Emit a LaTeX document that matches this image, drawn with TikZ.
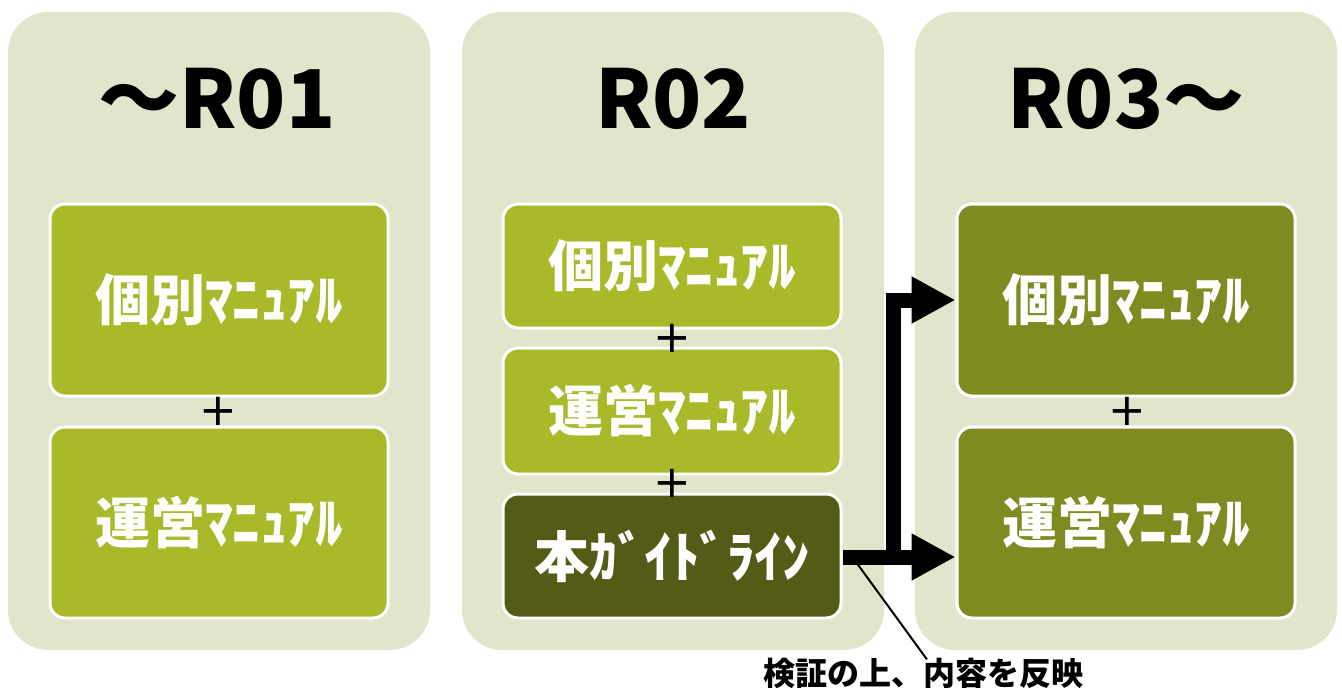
\documentclass[tikz,border=0pt]{standalone}
\usepackage{fontspec}
\setmainfont{Noto Sans CJK JP}
\newfontfamily\plusfont{DejaVu Sans}
\usetikzlibrary{arrows.meta}
\definecolor{panelbg}{HTML}{E1E5CC}
\definecolor{lightbox}{HTML}{A9B929}
\definecolor{darkbox}{HTML}{545B16}
\definecolor{midbox}{HTML}{7F8A20}
\tikzset{
  panel/.style={fill=panelbg, draw=none, rounded corners=40pt},
  title/.style={anchor=base, inner sep=0pt, font=\bfseries\fontsize{81pt}{84pt}\selectfont, text=black},
  mbox/.style={draw=white, line width=3pt, rounded corners=15pt, minimum width=338pt, inner sep=0pt,
    font=\bfseries\fontsize{55pt}{60pt}\selectfont, text=white},
  plussign/.style={inner sep=0pt, font=\plusfont\fontsize{45pt}{48pt}\selectfont, text=black},
  bigarrow/.style={line width=15pt, -{Triangle[length=44pt, width=44pt]}},
  note/.style={inner sep=0pt, font=\bfseries\fontsize{32pt}{34pt}\selectfont, text=black}
}
\begin{document}
\begin{tikzpicture}[x=1pt, y=-1pt]
\useasboundingbox (0,0) rectangle (1342,688);
% panels
\fill[panel] (8,12) rectangle (430,650);
\fill[panel] (462,12) rectangle (884,650);
\fill[panel] (915,12) rectangle (1337,650);
% titles
\node[title] (t1) at (217,128) {～R01};
\node[title] (t2) at (673,128) {R02};
\node[title] (t3) at (1126,128) {R03～};
% panel 1
\node[mbox, fill=lightbox, minimum height=192pt] (r1a) at (219,300) {個別ﾏﾆｭｱﾙ};
\node[mbox, fill=lightbox, minimum height=191pt] (r1b) at (219,522.5) {運営ﾏﾆｭｱﾙ};
% panel 2
\node[mbox, fill=lightbox, minimum height=124pt] (r2a) at (672,266) {個別ﾏﾆｭｱﾙ};
\node[mbox, fill=lightbox, minimum height=126pt] (r2b) at (672,411) {運営ﾏﾆｭｱﾙ};
\node[mbox, fill=darkbox, minimum height=124pt] (r2c) at (672,556) {本ｶﾞｲﾄﾞﾗｲﾝ};
% panel 3
\node[mbox, fill=midbox, minimum height=192pt] (r3a) at (1126,300) {個別ﾏﾆｭｱﾙ};
\node[mbox, fill=midbox, minimum height=191pt] (r3b) at (1126,522.5) {運営ﾏﾆｭｱﾙ};
% plus signs
\node[plussign] (p1) at (218,411) {+};
\node[plussign] (p2) at (672,338) {+};
\node[plussign] (p3) at (672,483) {+};
\node[plussign] (p4) at (1127,411) {+};
% arrows
\coordinate (split) at (893,557);
\draw[bigarrow] (r2c.east |- split) -- (r3b.west |- split);
\draw[bigarrow] (893,564.5) |- (r3a.west);
% note
\node[note] (lbl) at (923,673) {検証の上、内容を反映};
\coordinate (lstart) at (856,562);
\draw[line width=2pt] (lstart) -- ([xshift=4pt,yshift=-2pt]lbl.north);
\end{tikzpicture}
\end{document}
